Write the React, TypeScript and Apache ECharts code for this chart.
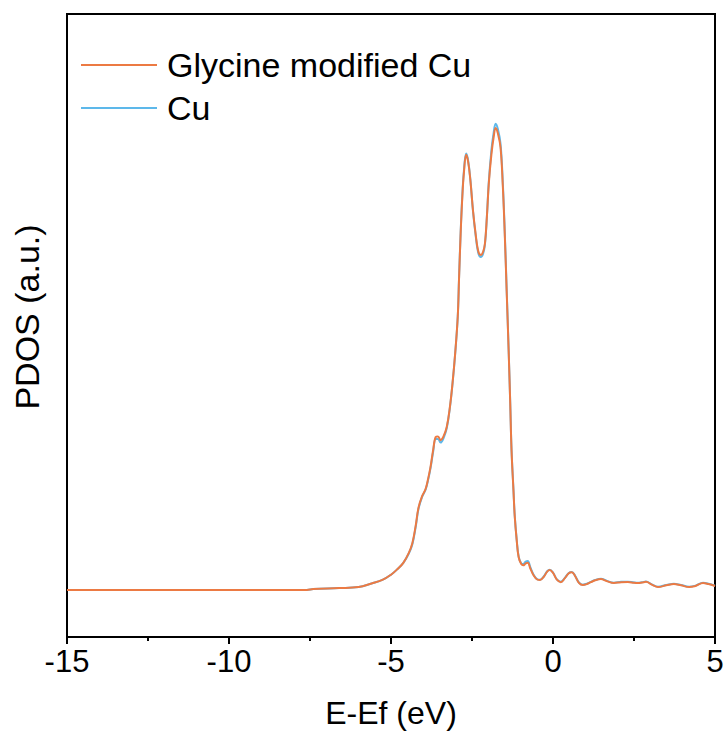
import React, { useEffect, useRef } from "react";
import * as echarts from "echarts";

const energies: number[] = [
  -15.0, -10.0, -7.6, -7.4, -6.6, -6.0, -5.6, -5.25, -5.0, -4.8, -4.62, -4.45, -4.34, -4.24, -4.15,
  -4.04, -3.93, -3.85, -3.78, -3.7, -3.62, -3.55, -3.47, -3.38, -3.28, -3.18, -3.1, -3.02, -2.94,
  -2.9, -2.85, -2.8, -2.75, -2.68, -2.62, -2.55, -2.47, -2.39, -2.31, -2.23, -2.16, -2.1, -2.04,
  -1.98, -1.9, -1.83, -1.77, -1.7, -1.62, -1.55, -1.49, -1.43, -1.37, -1.32, -1.28, -1.22, -1.18,
  -1.12, -1.06, -0.98, -0.92, -0.84, -0.78, -0.7, -0.6, -0.48, -0.4, -0.28, -0.18, -0.1, 0.0, 0.12,
  0.24, 0.36, 0.48, 0.58, 0.68, 0.8, 0.92, 1.05, 1.17, 1.3, 1.48, 1.65, 1.88, 2.1, 2.31, 2.5, 2.62,
  2.75, 2.87, 3.05, 3.24, 3.5, 3.73, 3.95, 4.2, 4.4, 4.63, 4.8, 5.0,
];

const glycineCu: number[] = [
  7.54, 7.54, 7.56, 7.7, 7.85, 8.03, 8.6, 9.2, 10.0, 10.9, 11.9, 13.5, 15.1, 17.8, 20.8,
  22.6, 23.8, 25.5, 27.3, 30.0, 32.1, 32.2, 31.6, 32.2, 33.7, 37.0, 40.8, 45.5, 51.4,
  57.5, 64.8, 70.5, 74.5, 77.4, 76.3, 73.3, 68.5, 64.8, 62.0, 61.3, 61.8, 63.2, 67.5,
  72.9, 77.5, 80.3, 81.7, 80.8, 78.6, 72.5, 64.8, 55.5, 46.1, 37.5, 30.0, 23.5, 19.3,
  15.5, 12.8, 11.7, 11.5, 11.8, 11.9, 11.0, 9.9, 9.2, 9.15, 9.7, 10.5, 10.75, 10.3, 9.2,
  8.8, 9.4, 10.2, 10.4, 9.8, 8.7, 8.35, 8.5, 8.8, 9.1, 9.3, 9.0, 8.67, 8.8, 8.83, 8.7, 8.67,
  8.75, 8.85, 8.4, 8.03, 8.3, 8.51, 8.3, 8.03, 8.2, 8.67, 8.5, 8.19,
];

const pureCu: number[] = [
  7.54, 7.54, 7.56, 7.7, 7.85, 8.03, 8.6, 9.2, 10.0, 10.9, 11.9, 13.4, 14.9, 17.6, 20.6,
  22.5, 23.7, 25.3, 27.1, 29.7, 31.8, 31.8, 31.2, 31.9, 33.5, 36.9, 40.7, 45.4, 51.4,
  57.6, 65.0, 70.8, 74.8, 77.6, 76.5, 73.4, 68.4, 64.6, 61.7, 61.0, 61.5, 63.0, 67.5,
  73.2, 78.2, 81.0, 82.4, 81.5, 79.2, 73.0, 65.2, 55.8, 46.3, 37.6, 30.1, 23.6, 19.4,
  15.6, 12.9, 11.8, 11.7, 12.1, 12.2, 11.2, 10.0, 9.25, 9.2, 9.75, 10.55, 10.8, 10.35, 9.25,
  8.85, 9.45, 10.25, 10.45, 9.85, 8.75, 8.4, 8.55, 8.85, 9.15, 9.35, 9.05, 8.7, 8.85, 8.88, 8.75, 8.7,
  8.8, 8.9, 8.45, 8.08, 8.35, 8.55, 8.35, 8.08, 8.25, 8.7, 8.55, 8.22,
];

const xTicks: number[] = [-15, -10, -5, 0, 5];
const seriesNames: string[] = ["Glycine modified Cu", "Cu"];
const xTitle = "E-Ef (eV)";
const yTitle = "PDOS (a.u.)";

const ORANGE = "#EC7A43";
const BLUE = "#5DB8EA";

export default function App() {
  const ref = useRef<HTMLDivElement>(null);

  useEffect(() => {
    if (!ref.current) return;
    const chart = echarts.init(ref.current, undefined, { renderer: "svg" });
    const fontFamily = "Liberation Sans, Arial, sans-serif";
    chart.setOption({
      animation: false,
      backgroundColor: "#ffffff",
      grid: {
        left: 67,
        right: 13,
        top: 14,
        bottom: 103,
        show: true,
        borderColor: "#000",
        borderWidth: 2,
        backgroundColor: "transparent",
      },
      legend: {
        orient: "vertical",
        left: 81,
        top: 48,
        padding: 0,
        data: seriesNames,
        icon: "rect",
        itemWidth: 76,
        itemHeight: 2,
        itemGap: 9,
        textStyle: {
          fontSize: 34,
          fontFamily,
          color: "#000",
          padding: [0, 0, 0, 5],
        },
      },
      graphic: [
        {
          type: "text",
          x: 27,
          y: 317,
          rotation: Math.PI / 2,
          style: {
            text: yTitle,
            font: `34px ${fontFamily}`,
            fill: "#000",
            textAlign: "center",
            textVerticalAlign: "middle",
          },
        },
      ],
      xAxis: {
        type: "value",
        min: -15,
        max: 5,
        interval: 5,
        name: xTitle,
        nameLocation: "middle",
        nameGap: 60,
        nameTextStyle: { fontSize: 32, fontFamily, color: "#000" },
        axisLine: { show: true, onZero: false, lineStyle: { color: "#000", width: 2 } },
        axisTick: { show: true, inside: false, length: 7, lineStyle: { color: "#000", width: 2 } },
        minorTick: { show: true, splitNumber: 2, length: 4, lineStyle: { color: "#000", width: 2 } },
        axisLabel: {
          fontSize: 31,
          fontFamily,
          color: "#000",
          margin: 9,
          formatter: (v: number) => (xTicks.includes(v) ? String(v) : ""),
        },
        splitLine: { show: false },
      },
      yAxis: {
        type: "value",
        min: 0,
        max: 100,
        axisLine: { show: true, onZero: false, lineStyle: { color: "#000", width: 2 } },
        axisTick: { show: false },
        axisLabel: { show: false },
        splitLine: { show: false },
      },
      series: [
        {
          name: "Cu",
          type: "line",
          data: energies.map((e, i) => [e, pureCu[i]]),
          smooth: 0.4,
          showSymbol: false,
          color: BLUE,
          lineStyle: { color: BLUE, width: 2 },
          z: 2,
        },
        {
          name: "Glycine modified Cu",
          type: "line",
          data: energies.map((e, i) => [e, glycineCu[i]]),
          smooth: 0.4,
          showSymbol: false,
          color: ORANGE,
          lineStyle: { color: ORANGE, width: 2 },
          z: 3,
        },
      ],
    });
    return () => chart.dispose();
  }, []);

  return (
    <div
      ref={ref}
      style={{ position: "fixed", left: 0, top: 0, width: 728, height: 740, background: "#fff" }}
    />
  );
}
